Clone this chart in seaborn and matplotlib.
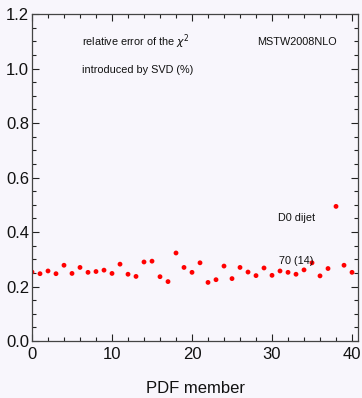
import numpy as np
import pandas as pd
import matplotlib
matplotlib.use("Agg")
import matplotlib.pyplot as plt
import seaborn as sns
from matplotlib.ticker import MultipleLocator

# PDF member index and relative error of chi^2 (%)
members = list(range(41))
rel_error = [0.253, 0.247, 0.257, 0.247, 0.278, 0.248, 0.270, 0.252, 0.255, 0.260,
             0.248, 0.282, 0.245, 0.237, 0.290, 0.293, 0.236, 0.218, 0.323, 0.270,
             0.252, 0.287, 0.215, 0.225, 0.275, 0.229, 0.270, 0.253, 0.240, 0.268,
             0.241, 0.257, 0.252, 0.245, 0.261, 0.287, 0.239, 0.266, 0.494, 0.278,
             0.252]

bg = "#f8f6fc"

sns.set_style("ticks")
plt.rcParams["font.family"] = ["Liberation Sans", "DejaVu Sans"]

df = pd.DataFrame({"member": members, "err": rel_error})

fig = plt.figure(figsize=(3.62, 3.98), dpi=100, facecolor=bg)
ax = fig.add_axes([0.0884, 0.1432, 0.9006, 0.8216])
ax.set_facecolor(bg)

sns.scatterplot(data=df, x="member", y="err", ax=ax, color="#ff0000",
                s=12, edgecolor="none", linewidth=0)

ax.set_xlim(0, 40.75)
ax.set_ylim(0, 1.2)
ax.xaxis.set_major_locator(MultipleLocator(10))
ax.xaxis.set_minor_locator(MultipleLocator(2))
ax.yaxis.set_major_locator(MultipleLocator(0.2))
ax.yaxis.set_minor_locator(MultipleLocator(0.05))
ax.yaxis.set_major_formatter(matplotlib.ticker.FormatStrFormatter("%.1f"))
ax.tick_params(which="both", direction="in", top=True, right=True,
               color="#222222", width=0.8, labelsize=12, labelcolor="#111111")
ax.tick_params(which="major", length=5, pad=4)
ax.tick_params(axis="y", which="major", pad=2)
ax.tick_params(which="minor", length=3)
for sp in ax.spines.values():
    sp.set_color("#444444")
    sp.set_linewidth(0.9)

ax.set_xlabel("PDF member", fontsize=12, labelpad=14, color="#111111")
ax.set_ylabel("")

small = dict(fontsize=7.8, color="#111111", va="center", ha="left")
ax.text(6.25, 1.10, r"relative error of the $\chi^2$", **small)
ax.text(6.25, 0.995, "introduced by SVD (%)", **small)
ax.text(28.1, 1.097, "MSTW2008NLO", **small)
ax.text(30.7, 0.452, "D0 dijet", **small)
ax.text(30.9, 0.294, "70 (14)", **small)

fig.savefig("out.png", dpi=100, facecolor=bg)
